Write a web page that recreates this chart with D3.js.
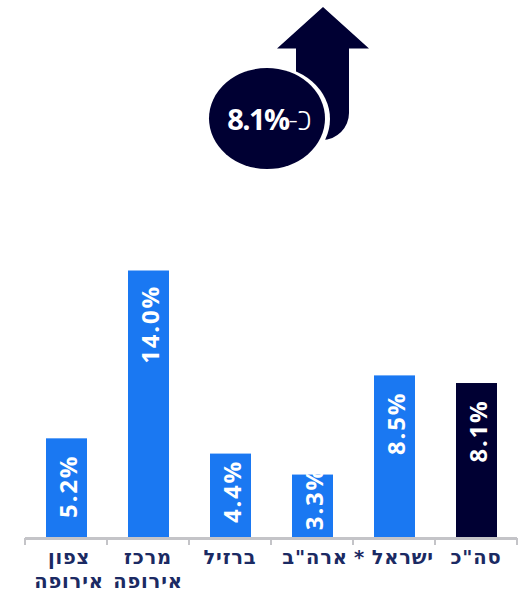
<!DOCTYPE html>
<html lang="he">
<head>
<meta charset="utf-8">
<script src="https://cdn.jsdelivr.net/npm/d3@7"></script>
<style>
html,body{margin:0;padding:0;background:#fff}
svg{display:block}
</style>
</head>
<body>
<svg id="chart" width="528" height="595"></svg>
<script>
const categories = [["צפון","אירופה"],["מרכז","אירופה"],["ברזיל"],["ארה\"ב"],["ישראל *"],["סה\"כ"]];
const values = [5.2, 14.0, 4.4, 3.3, 8.5, 8.1];
const barColors = ["#1a78f2","#1a78f2","#1a78f2","#1a78f2","#1a78f2","#000033"];
const badgePrefix = "כ-";
const badgeValue = "8.1%";

const svg = d3.select("#chart");
const navy = "#000033";

const x = d3.scaleBand().domain(d3.range(values.length)).range([25, 517]).paddingInner(0).paddingOuter(0);
const y = d3.scaleLinear().domain([0, 14]).range([537.5, 270.5]);
const barWidth = 41;

// Bars
svg.selectAll("rect.bar").data(values).join("rect")
  .attr("class", "bar")
  .attr("x", (d, i) => x(i) + (x.bandwidth() - barWidth) / 2 + 0.5)
  .attr("y", d => y(d))
  .attr("width", barWidth)
  .attr("height", d => y(0) - y(d))
  .attr("fill", (d, i) => barColors[i]);

// Labels hang from the bar top; short bars push them down toward the axis
function labelCentre(d) {
  const top = y(d);
  if (d >= 5) return top + 18 + (d >= 10 ? 36 : 30);
  return top + 24 + (d - 3.3) * 12.7;
}

svg.selectAll("text.val").data(values).join("text")
  .attr("class", "val")
  .attr("transform", (d, i) => `translate(${x(i) + x.bandwidth() / 2 + 10.5},${labelCentre(d)}) rotate(-90)`)
  .attr("text-anchor", "middle")
  .attr("font-family", "'Open Sans', sans-serif")
  .attr("font-weight", 700)
  .attr("font-size", 24)
  .attr("letter-spacing", 1.8)
  .attr("fill", "#fff")
  .text(d => d.toFixed(1) + "%");

// Category axis with outward ticks at band edges
const axis = svg.append("g");
axis.append("line").attr("x1", x.range()[0]).attr("x2", x.range()[1])
  .attr("y1", 538.5).attr("y2", 538.5).attr("stroke", "#c4c4c8").attr("stroke-width", 3);
axis.selectAll("line.tick").data(d3.range(values.length + 1)).join("line")
  .attr("class", "tick")
  .attr("x1", i => x.range()[0] + i * x.step())
  .attr("x2", i => x.range()[0] + i * x.step())
  .attr("y1", 538).attr("y2", 545)
  .attr("stroke", "#c4c4c8").attr("stroke-width", 2);

// Columns whose labels sit slightly right of the band centre
const nudged = new Set([0, 3]);

const labels = svg.selectAll("text.cat").data(categories).join("text")
  .attr("class", "cat")
  .attr("text-anchor", "middle")
  .attr("direction", "rtl")
  .attr("font-family", "'DejaVu Sans', sans-serif")
  .attr("font-weight", 700)
  .attr("font-size", 19.5)
  .attr("letter-spacing", 0.8)
  .attr("word-spacing", -1)
  .attr("fill", "#1b2a63");
labels.selectAll("tspan").data((d, i) => d.map(t => ({t, i}))).join("tspan")
  .attr("x", d => x(d.i) + x.bandwidth() / 2 + (nudged.has(d.i) ? 3 : 0))
  .attr("y", (d, j) => 564 + j * 24)
  .text(d => d.t);

// Up-arrow badge
const arrow = d3.path();
arrow.moveTo(323, 7);
arrow.lineTo(369, 48.5);
arrow.lineTo(349, 48.5);
arrow.lineTo(349, 113);
arrow.arc(322, 113, 27, 0, Math.PI / 2);
arrow.lineTo(296, 140);
arrow.lineTo(296, 48.5);
arrow.lineTo(277, 48.5);
arrow.closePath();
svg.append("path").attr("d", arrow.toString()).attr("fill", navy);

svg.append("ellipse").attr("cx", 269).attr("cy", 119).attr("rx", 61).attr("ry", 53).attr("fill", "#fff");
svg.append("ellipse").attr("cx", 267).attr("cy", 118.5).attr("rx", 58).attr("ry", 50.5).attr("fill", navy);
const badge = svg.append("text")
  .attr("x", 269.5).attr("y", 130)
  .attr("text-anchor", "middle")
  .attr("direction", "rtl")
  .attr("font-family", "'Open Sans', sans-serif")
  .attr("font-size", 29)
  .attr("fill", "#fff");
badge.append("tspan").attr("font-weight", 300).attr("letter-spacing", 0).text(badgePrefix);
badge.append("tspan").attr("font-weight", 700).attr("letter-spacing", -1.6).text(badgeValue);
</script>
</body>
</html>
